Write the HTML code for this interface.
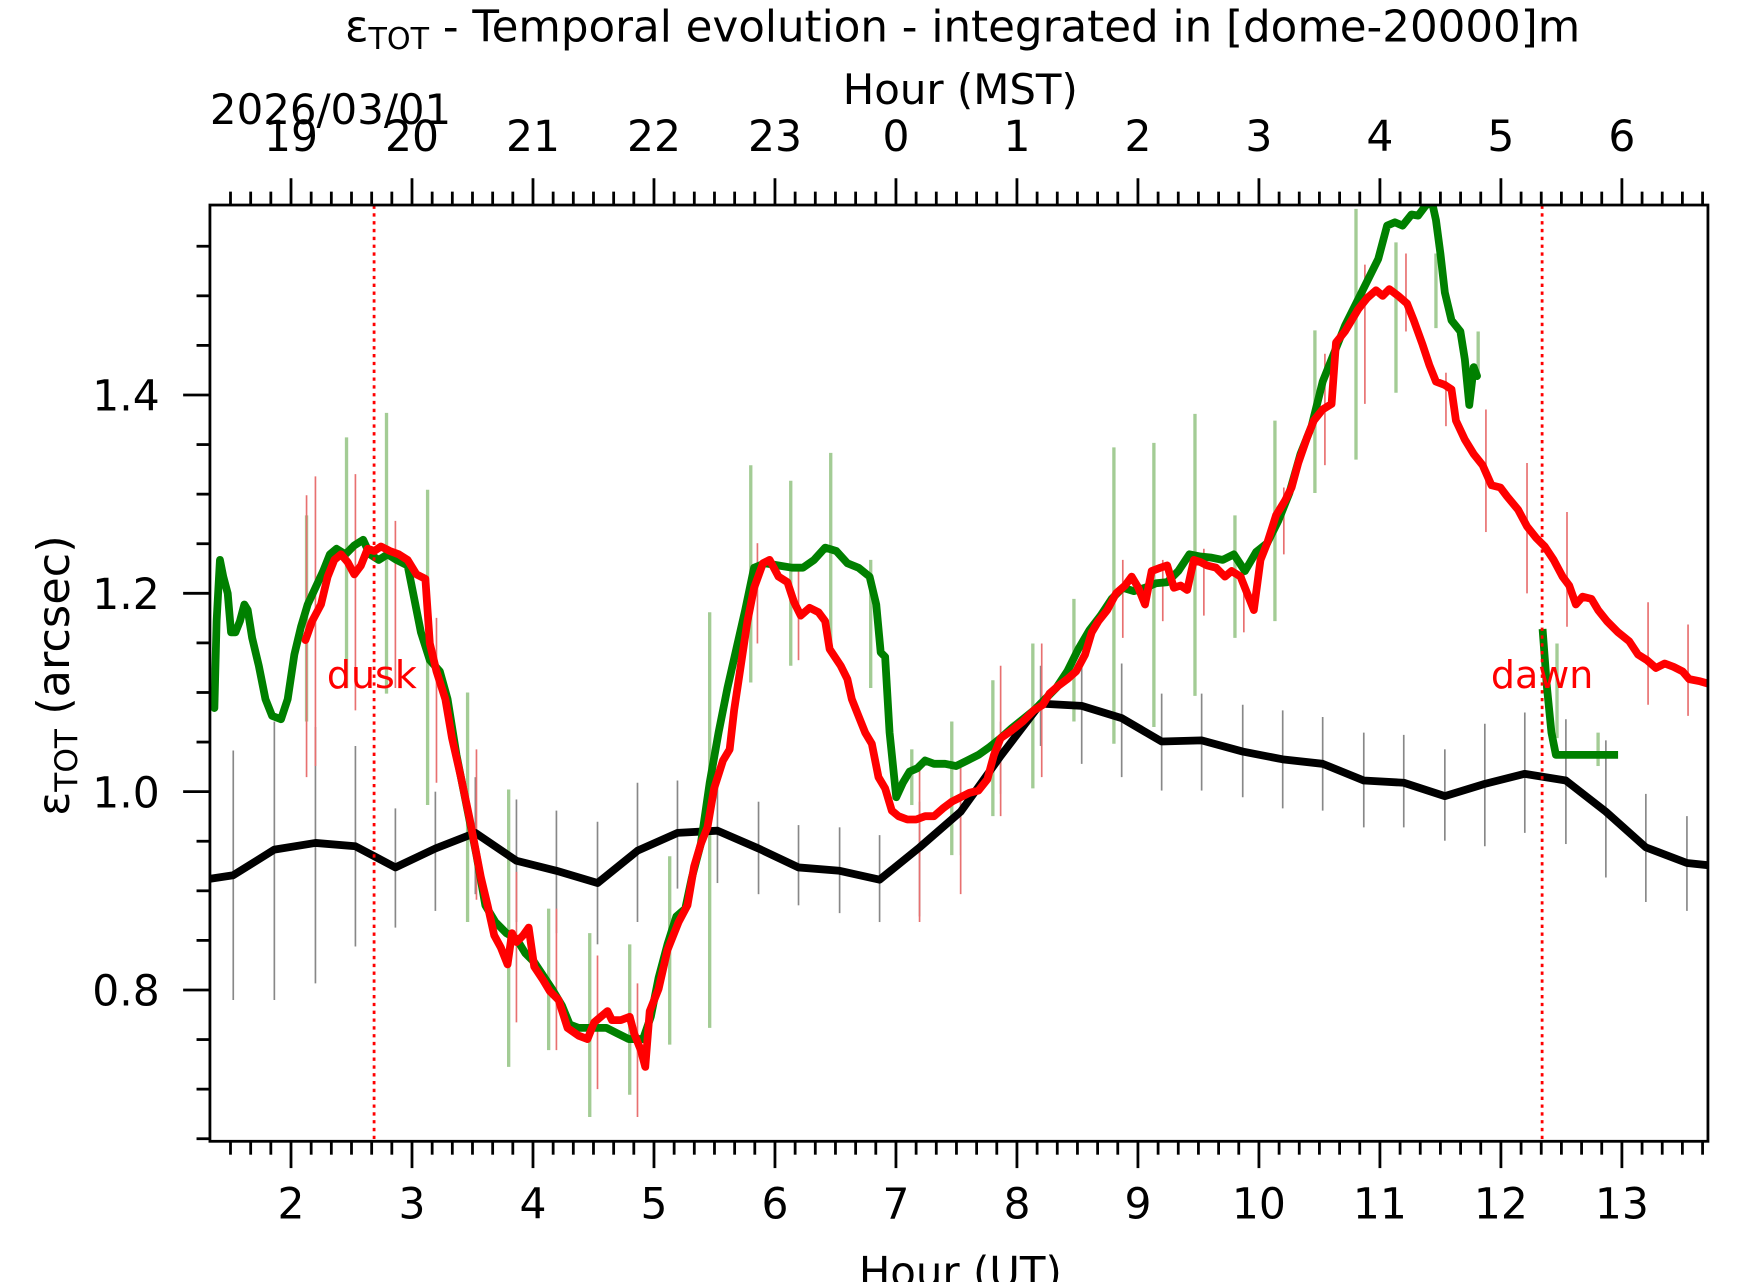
<!DOCTYPE html>
<html><head><meta charset="utf-8"><style>html,body{margin:0;padding:0;background:#fff}svg{display:block}</style></head>
<body>
<svg width="1742" height="1282" viewBox="0 0 1560 1148" preserveAspectRatio="none" xmlns="http://www.w3.org/2000/svg" font-family="'DejaVu Sans','Liberation Sans',sans-serif">
<rect width="1560" height="1148" fill="#fff"/>
<defs><clipPath id="c"><rect x="188" y="183.6" width="1341.5" height="838.4"/></clipPath></defs>
<g id="ticks" stroke="#000" stroke-width="2.5"></g>
<g clip-path="url(#c)">
<g transform="matrix(0.9945,0,0,0.9978,1.04,-2.51)">
<g id="bars"></g>
<g fill="none" stroke-linejoin="round" stroke-linecap="round">
<polyline stroke="#000" stroke-width="7" points="189,791 209,788 246,765 283,759 319,762 355,781 391,764 427,750 464,775 500,784 537,795 573,766 609,750 645,748 682,764 718,781 755,784 791,792 827,763 864,731 900,681 936,634 973,636 1009,647 1045,668 1081,667 1118,677 1154,684 1190,688 1227,703 1263,705 1300,717 1336,706 1372,697 1409,703 1445,731 1481,763 1518,777 1537,779"/>
<polyline stroke="#008000" stroke-width="7" points="192,638 194,560 197,505 200,520 204,535 207,570 211,570 215,560 219,545 222,550 226,575 232,600 238,630 244,645 252,648 258,630 264,590 270,565 276,545 283,530 290,515 296,500 302,495 310,500 318,492 326,487 332,500 340,505 348,500 356,505 366,510 372,540 378,570 386,595 395,605 402,630 410,680 420,730 428,770 436,815 445,830 455,840 464,845 472,858 480,866 488,878 496,890 505,905 512,922 520,925 530,925 545,925 555,930 565,935 572,935 578,935 585,915 592,880 600,850 608,825 616,818 622,790 630,760 638,705 646,660 654,620 662,585 670,550 678,512 688,508 700,510 712,512 722,512 732,505 742,494 752,497 762,508 772,512 782,520 788,545 792,588 796,592 800,660 806,718 812,705 818,695 825,692 832,685 840,688 850,688 860,690 870,685 880,680 890,673 900,665 910,656 920,648 930,640 940,630 950,620 960,605 970,585 980,568 990,555 1000,540 1010,530 1020,533 1030,530 1040,526 1050,525 1060,515 1070,500 1080,502 1090,503 1100,505 1110,500 1120,515 1130,498 1140,490 1150,470 1160,445 1170,410 1180,385 1190,345 1200,320 1210,295 1220,275 1230,255 1240,235 1248,205 1255,202 1262,205 1270,195 1276,196 1282,188 1288,182 1292,200 1296,230 1300,265 1306,290 1314,300 1318,325 1322,366 1326,332 1329,340"/>
<polyline stroke="#008000" stroke-width="7" stroke-linecap="butt" points="1388,567 1392,620 1396,660 1400,680 1456,680"/>
<polyline stroke="#f00" stroke-width="7" points="274,577 280,560 288,545 294,520 300,505 306,500 312,507 318,518 324,510 330,495 336,497 342,493 350,497 358,500 366,505 374,518 382,522 386,580 392,605 400,630 406,665 414,700 422,738 432,790 438,815 444,842 450,853 456,868 460,840 464,848 470,842 475,835 480,870 488,882 494,892 502,900 510,925 520,932 528,935 534,920 540,915 546,910 550,918 558,918 566,915 570,930 576,945 580,960 584,910 592,890 600,855 610,830 618,815 624,780 630,760 636,745 642,710 650,685 656,675 660,640 666,600 672,560 678,530 686,508 692,505 700,520 708,525 714,543 720,555 728,548 736,552 742,560 746,585 756,600 762,612 766,630 772,645 778,660 784,670 790,700 796,710 802,730 808,735 816,738 824,738 832,735 840,735 848,728 856,722 864,718 872,714 880,712 888,702 894,680 900,665 910,658 920,650 930,640 938,635 944,625 952,618 960,612 968,605 976,590 982,570 988,560 996,550 1004,535 1012,528 1018,520 1024,530 1030,545 1036,515 1044,512 1050,510 1056,530 1062,528 1068,532 1074,505 1080,507 1086,510 1094,512 1102,520 1108,515 1116,520 1122,535 1128,550 1134,505 1140,490 1148,465 1156,452 1162,440 1168,418 1176,395 1182,380 1190,370 1198,365 1202,310 1210,300 1216,290 1222,280 1230,270 1238,263 1244,268 1250,262 1258,268 1266,275 1272,290 1280,312 1286,330 1292,345 1300,348 1306,352 1310,380 1318,397 1326,410 1334,420 1342,438 1350,440 1356,448 1366,460 1374,475 1382,485 1390,493 1398,505 1406,520 1412,528 1418,545 1424,538 1432,540 1438,550 1446,560 1456,570 1466,578 1474,590 1482,595 1490,602 1498,598 1506,601 1514,605 1520,612 1530,614 1537,616"/>
</g>
</g>
</g>
<line x1="335" y1="184" x2="335" y2="1022" stroke="#f00" stroke-width="2.5" stroke-dasharray="3,4"/>
<line x1="1381" y1="184" x2="1381" y2="1022" stroke="#f00" stroke-width="2.5" stroke-dasharray="3,4"/>
<rect x="188" y="183.6" width="1341.5" height="838.4" fill="none" stroke="#000" stroke-width="2.5"/>
<g font-size="37.5" text-anchor="middle" fill="#000">
<text x="862" y="37" font-size="39">ε<tspan font-size="27" dy="7">TOT</tspan><tspan dy="-7"> - Temporal evolution - integrated in [dome-20000]m</tspan></text>
<text x="860" y="93">Hour (MST)</text>
<text x="860" y="1152">Hour (UT)</text>
<text transform="translate(62,605) rotate(-90)" font-size="40">ε<tspan font-size="28" dy="7">TOT</tspan><tspan dy="-7"> (arcsec)</tspan></text>
</g>
<text x="188" y="111" font-size="37.5" fill="#000">2026/03/01</text>
<g id="labels" font-size="38" fill="#000"></g>
<g font-size="34" fill="#f00" text-anchor="middle"><text x="333" y="616">dusk</text><text x="1381" y="616">dawn</text></g>
<script>
var ns="http://www.w3.org/2000/svg";
function el(p,t,a,txt){var e=document.createElementNS(ns,t);for(var k in a)e.setAttribute(k,a[k]);if(txt!==undefined)e.textContent=txt;p.appendChild(e);return e;}
var T=document.getElementById('ticks'),L=document.getElementById('labels'),B=document.getElementById('bars');
function X(h){return 260.6+(h-2)*108.35;}
function Y(v){return 353.7+(1.4-v)*888;}
for(var m=0;m<=80;m++){var h=1+m/6;var x=X(h);if(x<189||x>1529)continue;var maj=(m%6==0);var len=maj?24:12;
el(T,'line',{x1:x,y1:1022,x2:x,y2:1022+len});el(T,'line',{x1:x,y1:183.6,x2:x,y2:183.6-len});
if(maj){var u=Math.round(h);el(L,'text',{x:x,y:1091,'text-anchor':'middle'},u);var ms=(u-7+24)%24;el(L,'text',{x:x,y:135,'text-anchor':'middle'},ms);}}
for(var k=13;k<=31;k++){var v=k*0.05;var y=Y(v);if(y<184||y>1023)continue;var maj=(k%4==0);var len=maj?24:12;
el(T,'line',{x1:188,y1:y,x2:188-len,y2:y});if(maj)el(L,'text',{x:143,y:y+14,'text-anchor':'end'},v.toFixed(1));}
var kb=[[209,676,900],[246,650,900],[283,655,885],[319,672,852],[355,728,835],[391,713,820],[427,700,805],[464,720,830],[500,730,840],[537,740,850],[573,705,830],[609,703,800],[645,698,795],[682,722,805],[718,743,815],[755,745,822],[791,752,830],[827,722,825],[864,690,770],[900,650,715],[936,600,672],[973,600,688],[1009,598,700],[1045,625,712],[1081,625,712],[1118,635,718],[1154,640,728],[1190,646,730],[1227,660,745],[1263,662,745],[1300,675,757],[1336,652,762],[1372,642,750],[1409,648,760],[1445,667,790],[1481,715,812],[1518,735,820]];
kb.forEach(function(b){el(B,'line',{x1:b[0],y1:b[1],x2:b[0],y2:b[2],stroke:'#888',"stroke-width":1.5});});
var gb=[[275,465,650],[311,395,620],[347,373,625],[384,442,725],[420,624,830],[457,711,960],[493,818,945],[530,840,1005],[566,850,985],[602,771,940],[638,552,925],[675,420,615],[711,434,600],[747,409,590],[783,505,620],[820,675,725],[856,650,770],[893,613,735],[929,580,710],[966,540,650],[1002,404,670],[1038,400,655],[1075,374,627],[1111,465,575],[1147,380,560],[1183,299,445],[1220,190,415],[1256,220,355],[1292,230,297],[1330,300,340],[1401,580,665],[1438,660,690]];
gb.forEach(function(b){el(B,'line',{x1:b[0],y1:b[1],x2:b[0],y2:b[2],stroke:'#a3cc95',"stroke-width":3});});
var rb=[[275,447,700],[283,430,690],[319,428,640],[355,470,620],[392,557,705],[428,675,810],[464,785,920],[500,818,945],[537,860,980],[573,885,1005],[681,490,580],[718,515,595],[827,690,830],[864,690,805],[900,600,735],[937,580,700],[1010,505,575],[1046,505,560],[1083,495,555],[1119,510,570],[1155,440,500],[1192,320,420],[1228,240,365],[1265,230,300],[1301,337,385],[1337,370,480],[1374,418,535],[1410,462,565],[1483,543,635],[1519,563,645]];
rb.forEach(function(b){el(B,'line',{x1:b[0],y1:b[1],x2:b[0],y2:b[2],stroke:'#e87070',"stroke-width":1.5});});
</script>
</svg>
</body></html>
